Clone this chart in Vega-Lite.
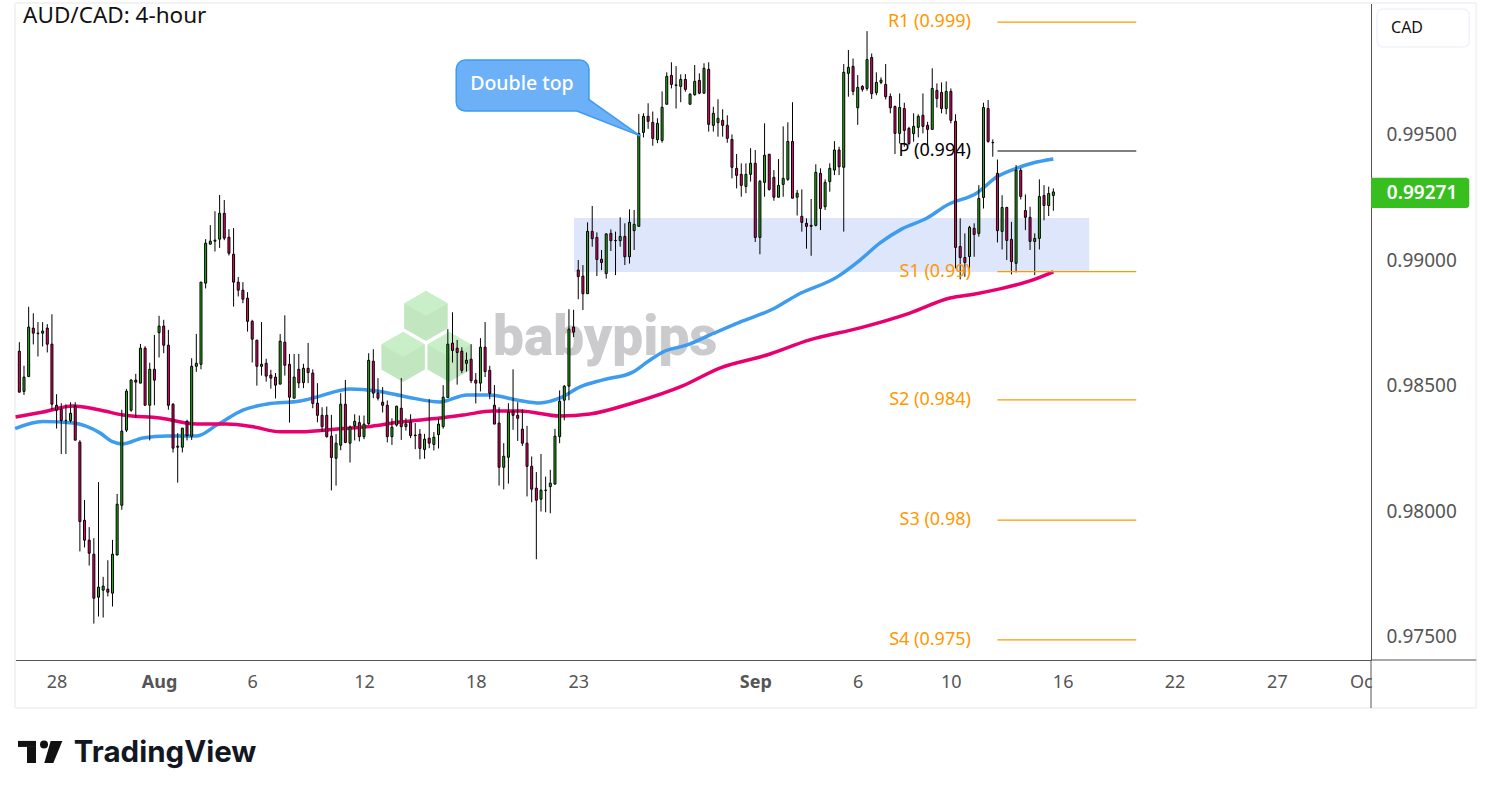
{"$schema":"https://vega.github.io/schema/vega-lite/v6.json","width":1356,"height":657,"autosize":"none","padding":{"left":15,"top":3,"right":120,"bottom":138},"background":"#ffffff","config":{"view":{"stroke":null},"font":"Noto Sans"},
"datasets":{"candles":[
{"i":0,"open":0.98637,"high":0.98673,"low":0.98474,"close":0.98474},{"i":1,"open":0.98477,"high":0.98579,"low":0.98463,"close":0.98534},{"i":2,"open":0.98536,"high":0.98814,"low":0.98536,"close":0.98733},{"i":3,"open":0.98729,"high":0.98788,"low":0.98664,"close":0.98709},{"i":4,"open":0.98707,"high":0.98753,"low":0.98616,"close":0.98709},{"i":5,"open":0.98709,"high":0.98753,"low":0.98656,"close":0.98717},{"i":6,"open":0.98729,"high":0.98745,"low":0.98632,"close":0.98665},{"i":7,"open":0.98665,"high":0.98784,"low":0.98404,"close":0.98426},{"i":8,"open":0.98422,"high":0.98466,"low":0.98329,"close":0.98402},{"i":9,"open":0.98406,"high":0.98430,"low":0.98228,"close":0.98361},
{"i":10,"open":0.98361,"high":0.98426,"low":0.98228,"close":0.98362},{"i":11,"open":0.98361,"high":0.98434,"low":0.98353,"close":0.98390},{"i":12,"open":0.98419,"high":0.98434,"low":0.98283,"close":0.98283},{"i":13,"open":0.98275,"high":0.98283,"low":0.97840,"close":0.97959},{"i":14,"open":0.97964,"high":0.98045,"low":0.97856,"close":0.97885},{"i":15,"open":0.97885,"high":0.97937,"low":0.97784,"close":0.97833},{"i":16,"open":0.97829,"high":0.97893,"low":0.97553,"close":0.97654},{"i":17,"open":0.97658,"high":0.98116,"low":0.97581,"close":0.97698},{"i":18,"open":0.97686,"high":0.97739,"low":0.97577,"close":0.97702},{"i":19,"open":0.97690,"high":0.97805,"low":0.97661,"close":0.97678},
{"i":20,"open":0.97674,"high":0.97886,"low":0.97621,"close":0.97829},{"i":21,"open":0.97826,"high":0.98069,"low":0.97824,"close":0.98028},{"i":22,"open":0.98024,"high":0.98404,"low":0.98006,"close":0.98319},{"i":23,"open":0.98323,"high":0.98487,"low":0.98315,"close":0.98478},{"i":24,"open":0.98402,"high":0.98526,"low":0.98396,"close":0.98522},{"i":25,"open":0.98522,"high":0.98547,"low":0.98373,"close":0.98514},{"i":26,"open":0.98510,"high":0.98666,"low":0.98510,"close":0.98649},{"i":27,"open":0.98649,"high":0.98657,"low":0.98422,"close":0.98422},{"i":28,"open":0.98422,"high":0.98591,"low":0.98282,"close":0.98565},{"i":29,"open":0.98565,"high":0.98702,"low":0.98422,"close":0.98522},
{"i":30,"open":0.98711,"high":0.98778,"low":0.98612,"close":0.98737},{"i":31,"open":0.98737,"high":0.98762,"low":0.98629,"close":0.98661},{"i":32,"open":0.98661,"high":0.98722,"low":0.98404,"close":0.98422},{"i":33,"open":0.98426,"high":0.98430,"low":0.98234,"close":0.98251},{"i":34,"open":0.98255,"high":0.98311,"low":0.98114,"close":0.98259},{"i":35,"open":0.98255,"high":0.98331,"low":0.98234,"close":0.98331},{"i":36,"open":0.98358,"high":0.98364,"low":0.98282,"close":0.98301},{"i":37,"open":0.98299,"high":0.98609,"low":0.98284,"close":0.98577},{"i":38,"open":0.98577,"high":0.98706,"low":0.98555,"close":0.98589},{"i":39,"open":0.98585,"high":0.98912,"low":0.98565,"close":0.98912},
{"i":40,"open":0.98908,"high":0.99083,"low":0.98887,"close":0.99067},{"i":41,"open":0.99063,"high":0.99139,"low":0.99063,"close":0.99075},{"i":42,"open":0.99075,"high":0.99194,"low":0.99034,"close":0.99079},{"i":43,"open":0.99083,"high":0.99259,"low":0.99048,"close":0.99186},{"i":44,"open":0.99186,"high":0.99239,"low":0.99079,"close":0.99087},{"i":45,"open":0.99091,"high":0.99123,"low":0.99018,"close":0.99027},{"i":46,"open":0.99023,"high":0.99127,"low":0.98815,"close":0.98912},{"i":47,"open":0.98912,"high":0.98932,"low":0.98855,"close":0.98880},{"i":48,"open":0.98880,"high":0.98912,"low":0.98828,"close":0.98844},{"i":49,"open":0.98848,"high":0.98872,"low":0.98715,"close":0.98756},
{"i":50,"open":0.98756,"high":0.98762,"low":0.98592,"close":0.98685},{"i":51,"open":0.98681,"high":0.98682,"low":0.98500,"close":0.98577},{"i":52,"open":0.98577,"high":0.98753,"low":0.98540,"close":0.98585},{"i":53,"open":0.98589,"high":0.98607,"low":0.98516,"close":0.98538},{"i":54,"open":0.98542,"high":0.98563,"low":0.98488,"close":0.98530},{"i":55,"open":0.98534,"high":0.98550,"low":0.98449,"close":0.98502},{"i":56,"open":0.98506,"high":0.98705,"low":0.98506,"close":0.98677},{"i":57,"open":0.98673,"high":0.98780,"low":0.98540,"close":0.98581},{"i":58,"open":0.98585,"high":0.98626,"low":0.98353,"close":0.98454},{"i":59,"open":0.98450,"high":0.98626,"low":0.98450,"close":0.98534},
{"i":60,"open":0.98565,"high":0.98626,"low":0.98490,"close":0.98511},{"i":61,"open":0.98512,"high":0.98587,"low":0.98490,"close":0.98569},{"i":62,"open":0.98569,"high":0.98670,"low":0.98510,"close":0.98552},{"i":63,"open":0.98550,"high":0.98565,"low":0.98410,"close":0.98429},{"i":64,"open":0.98430,"high":0.98510,"low":0.98354,"close":0.98382},{"i":65,"open":0.98382,"high":0.98414,"low":0.98317,"close":0.98337},{"i":66,"open":0.98382,"high":0.98417,"low":0.98293,"close":0.98297},{"i":67,"open":0.98299,"high":0.98384,"low":0.98083,"close":0.98214},{"i":68,"open":0.98211,"high":0.98307,"low":0.98102,"close":0.98271},{"i":69,"open":0.98263,"high":0.98470,"low":0.98243,"close":0.98426},
{"i":70,"open":0.98426,"high":0.98523,"low":0.98271,"close":0.98274},{"i":71,"open":0.98271,"high":0.98341,"low":0.98194,"close":0.98335},{"i":72,"open":0.98341,"high":0.98386,"low":0.98282,"close":0.98358},{"i":73,"open":0.98353,"high":0.98381,"low":0.98278,"close":0.98297},{"i":74,"open":0.98297,"high":0.98381,"low":0.98287,"close":0.98347},{"i":75,"open":0.98349,"high":0.98629,"low":0.98344,"close":0.98601},{"i":76,"open":0.98597,"high":0.98645,"low":0.98450,"close":0.98470},{"i":77,"open":0.98470,"high":0.98530,"low":0.98441,"close":0.98450},{"i":78,"open":0.98434,"high":0.98494,"low":0.98393,"close":0.98422},{"i":79,"open":0.98422,"high":0.98441,"low":0.98274,"close":0.98297},
{"i":80,"open":0.98297,"high":0.98370,"low":0.98264,"close":0.98335},{"i":81,"open":0.98343,"high":0.98420,"low":0.98337,"close":0.98418},{"i":82,"open":0.98410,"high":0.98530,"low":0.98284,"close":0.98337},{"i":83,"open":0.98337,"high":0.98370,"low":0.98321,"close":0.98347},{"i":84,"open":0.98355,"high":0.98386,"low":0.98291,"close":0.98301},{"i":85,"open":0.98301,"high":0.98351,"low":0.98247,"close":0.98303},{"i":86,"open":0.98307,"high":0.98327,"low":0.98207,"close":0.98250},{"i":87,"open":0.98246,"high":0.98308,"low":0.98209,"close":0.98287},{"i":88,"open":0.98291,"high":0.98446,"low":0.98251,"close":0.98271},{"i":89,"open":0.98266,"high":0.98315,"low":0.98242,"close":0.98295},
{"i":90,"open":0.98305,"high":0.98370,"low":0.98250,"close":0.98347},{"i":91,"open":0.98337,"high":0.98502,"low":0.98329,"close":0.98454},{"i":92,"open":0.98453,"high":0.98725,"low":0.98453,"close":0.98665},{"i":93,"open":0.98669,"high":0.98792,"low":0.98592,"close":0.98640},{"i":94,"open":0.98649,"high":0.98682,"low":0.98504,"close":0.98632},{"i":95,"open":0.98637,"high":0.98653,"low":0.98550,"close":0.98561},{"i":96,"open":0.98589,"high":0.98632,"low":0.98556,"close":0.98601},{"i":97,"open":0.98605,"high":0.98665,"low":0.98510,"close":0.98520},{"i":98,"open":0.98522,"high":0.98550,"low":0.98429,"close":0.98510},{"i":99,"open":0.98510,"high":0.98689,"low":0.98477,"close":0.98653},
{"i":100,"open":0.98653,"high":0.98753,"low":0.98534,"close":0.98556},{"i":101,"open":0.98561,"high":0.98579,"low":0.98446,"close":0.98469},{"i":102,"open":0.98422,"high":0.98502,"low":0.98347,"close":0.98347},{"i":103,"open":0.98351,"high":0.98414,"low":0.98102,"close":0.98175},{"i":104,"open":0.98175,"high":0.98271,"low":0.98087,"close":0.98219},{"i":105,"open":0.98215,"high":0.98430,"low":0.98110,"close":0.98394},{"i":106,"open":0.98398,"high":0.98565,"low":0.98324,"close":0.98382},{"i":107,"open":0.98382,"high":0.98434,"low":0.98280,"close":0.98370},{"i":108,"open":0.98327,"high":0.98406,"low":0.98260,"close":0.98271},{"i":109,"open":0.98271,"high":0.98340,"low":0.98059,"close":0.98179},
{"i":110,"open":0.98179,"high":0.98218,"low":0.98036,"close":0.98088},{"i":111,"open":0.98092,"high":0.98156,"low":0.97809,"close":0.98044},{"i":112,"open":0.98048,"high":0.98228,"low":0.97999,"close":0.98084},{"i":113,"open":0.98083,"high":0.98138,"low":0.97996,"close":0.98084},{"i":114,"open":0.98098,"high":0.98165,"low":0.97992,"close":0.98112},{"i":115,"open":0.98108,"high":0.98328,"low":0.98108,"close":0.98299},{"i":116,"open":0.98297,"high":0.98481,"low":0.98271,"close":0.98438},{"i":117,"open":0.98442,"high":0.98502,"low":0.98362,"close":0.98498},{"i":118,"open":0.98498,"high":0.98804,"low":0.98442,"close":0.98725},{"i":119,"open":0.98733,"high":0.98802,"low":0.98693,"close":0.98713},
{"i":120,"open":0.98960,"high":0.99000,"low":0.98844,"close":0.98934},{"i":121,"open":0.98936,"high":0.98980,"low":0.98801,"close":0.98866},{"i":122,"open":0.98866,"high":0.99150,"low":0.98866,"close":0.99114},{"i":123,"open":0.99114,"high":0.99215,"low":0.99053,"close":0.99085},{"i":124,"open":0.99090,"high":0.99110,"low":0.98936,"close":0.99002},{"i":125,"open":0.99003,"high":0.99040,"low":0.98960,"close":0.98990},{"i":126,"open":0.98946,"high":0.99106,"low":0.98926,"close":0.99104},{"i":127,"open":0.99106,"high":0.99122,"low":0.99036,"close":0.99077},{"i":128,"open":0.99077,"high":0.99113,"low":0.98940,"close":0.99078},{"i":129,"open":0.99077,"high":0.99170,"low":0.99053,"close":0.99094},
{"i":130,"open":0.99094,"high":0.99146,"low":0.98980,"close":0.99013},{"i":131,"open":0.99013,"high":0.99202,"low":0.98986,"close":0.99150},{"i":132,"open":0.99117,"high":0.99199,"low":0.99040,"close":0.99142},{"i":133,"open":0.99134,"high":0.99581,"low":0.99134,"close":0.99504},{"i":134,"open":0.99508,"high":0.99584,"low":0.99488,"close":0.99572},{"i":135,"open":0.99572,"high":0.99624,"low":0.99522,"close":0.99552},{"i":136,"open":0.99548,"high":0.99591,"low":0.99455,"close":0.99484},{"i":137,"open":0.99479,"high":0.99564,"low":0.99465,"close":0.99544},{"i":138,"open":0.99476,"high":0.99671,"low":0.99467,"close":0.99608},{"i":139,"open":0.99620,"high":0.99747,"low":0.99620,"close":0.99731},
{"i":140,"open":0.99735,"high":0.99787,"low":0.99683,"close":0.99699},{"i":141,"open":0.99695,"high":0.99772,"low":0.99603,"close":0.99697},{"i":142,"open":0.99691,"high":0.99739,"low":0.99628,"close":0.99719},{"i":143,"open":0.99719,"high":0.99740,"low":0.99670,"close":0.99679},{"i":144,"open":0.99620,"high":0.99664,"low":0.99620,"close":0.99660},{"i":145,"open":0.99658,"high":0.99776,"low":0.99654,"close":0.99711},{"i":146,"open":0.99715,"high":0.99743,"low":0.99660,"close":0.99664},{"i":147,"open":0.99664,"high":0.99783,"low":0.99664,"close":0.99763},{"i":148,"open":0.99759,"high":0.99787,"low":0.99511,"close":0.99540},{"i":149,"open":0.99536,"high":0.99610,"low":0.99511,"close":0.99584},
{"i":150,"open":0.99547,"high":0.99640,"low":0.99491,"close":0.99564},{"i":151,"open":0.99556,"high":0.99600,"low":0.99491,"close":0.99536},{"i":152,"open":0.99536,"high":0.99576,"low":0.99467,"close":0.99484},{"i":153,"open":0.99480,"high":0.99500,"low":0.99325,"close":0.99369},{"i":154,"open":0.99365,"high":0.99422,"low":0.99285,"close":0.99337},{"i":155,"open":0.99341,"high":0.99385,"low":0.99252,"close":0.99297},{"i":156,"open":0.99293,"high":0.99385,"low":0.99266,"close":0.99341},{"i":157,"open":0.99341,"high":0.99445,"low":0.99312,"close":0.99385},{"i":158,"open":0.99385,"high":0.99438,"low":0.99072,"close":0.99090},{"i":159,"open":0.99090,"high":0.99319,"low":0.99023,"close":0.99313},
{"i":160,"open":0.99309,"high":0.99544,"low":0.99252,"close":0.99417},{"i":161,"open":0.99421,"high":0.99422,"low":0.99276,"close":0.99281},{"i":162,"open":0.99329,"high":0.99358,"low":0.99236,"close":0.99250},{"i":163,"open":0.99250,"high":0.99402,"low":0.99250,"close":0.99297},{"i":164,"open":0.99301,"high":0.99532,"low":0.99252,"close":0.99325},{"i":165,"open":0.99321,"high":0.99548,"low":0.99315,"close":0.99472},{"i":166,"open":0.99472,"high":0.99628,"low":0.99246,"close":0.99246},{"i":167,"open":0.99250,"high":0.99279,"low":0.99177,"close":0.99266},{"i":168,"open":0.99174,"high":0.99281,"low":0.99113,"close":0.99150},{"i":169,"open":0.99146,"high":0.99166,"low":0.99045,"close":0.99134},
{"i":170,"open":0.99134,"high":0.99243,"low":0.99017,"close":0.99138},{"i":171,"open":0.99138,"high":0.99381,"low":0.99134,"close":0.99349},{"i":172,"open":0.99345,"high":0.99365,"low":0.99119,"close":0.99205},{"i":173,"open":0.99212,"high":0.99321,"low":0.99199,"close":0.99309},{"i":174,"open":0.99312,"high":0.99385,"low":0.99272,"close":0.99365},{"i":175,"open":0.99358,"high":0.99473,"low":0.99338,"close":0.99438},{"i":176,"open":0.99438,"high":0.99451,"low":0.99338,"close":0.99371},{"i":177,"open":0.99369,"high":0.99780,"low":0.99113,"close":0.99747},{"i":178,"open":0.99743,"high":0.99836,"low":0.99650,"close":0.99767},{"i":179,"open":0.99771,"high":0.99802,"low":0.99656,"close":0.99671},
{"i":180,"open":0.99606,"high":0.99736,"low":0.99538,"close":0.99687},{"i":181,"open":0.99691,"high":0.99696,"low":0.99670,"close":0.99679},{"i":182,"open":0.99683,"high":0.99911,"low":0.99674,"close":0.99798},{"i":183,"open":0.99806,"high":0.99822,"low":0.99641,"close":0.99662},{"i":184,"open":0.99666,"high":0.99747,"low":0.99656,"close":0.99707},{"i":185,"open":0.99707,"high":0.99727,"low":0.99700,"close":0.99716},{"i":186,"open":0.99699,"high":0.99780,"low":0.99639,"close":0.99650},{"i":187,"open":0.99651,"high":0.99663,"low":0.99584,"close":0.99606},{"i":188,"open":0.99611,"high":0.99615,"low":0.99422,"close":0.99504},{"i":189,"open":0.99504,"high":0.99663,"low":0.99464,"close":0.99607},
{"i":190,"open":0.99603,"high":0.99626,"low":0.99451,"close":0.99516},{"i":191,"open":0.99524,"high":0.99530,"low":0.99457,"close":0.99464},{"i":192,"open":0.99503,"high":0.99584,"low":0.99471,"close":0.99532},{"i":193,"open":0.99528,"high":0.99580,"low":0.99488,"close":0.99572},{"i":194,"open":0.99576,"high":0.99663,"low":0.99504,"close":0.99532},{"i":195,"open":0.99536,"high":0.99550,"low":0.99454,"close":0.99520},{"i":196,"open":0.99520,"high":0.99763,"low":0.99520,"close":0.99683},{"i":197,"open":0.99675,"high":0.99703,"low":0.99607,"close":0.99643},{"i":198,"open":0.99667,"high":0.99707,"low":0.99584,"close":0.99603},{"i":199,"open":0.99603,"high":0.99711,"low":0.99580,"close":0.99671},
{"i":200,"open":0.99671,"high":0.99683,"low":0.99544,"close":0.99556},{"i":201,"open":0.99552,"high":0.99580,"low":0.98967,"close":0.99050},{"i":202,"open":0.99054,"high":0.99166,"low":0.98923,"close":0.99010},{"i":203,"open":0.99010,"high":0.99106,"low":0.98933,"close":0.98990},{"i":204,"open":0.99014,"high":0.99136,"low":0.98947,"close":0.99130},{"i":205,"open":0.99126,"high":0.99146,"low":0.99013,"close":0.99102},{"i":206,"open":0.99106,"high":0.99298,"low":0.99093,"close":0.99245},{"i":207,"open":0.99249,"high":0.99626,"low":0.99205,"close":0.99607},{"i":208,"open":0.99603,"high":0.99637,"low":0.99467,"close":0.99472},{"i":209,"open":0.99468,"high":0.99480,"low":0.99411,"close":0.99467},
{"i":210,"open":0.99345,"high":0.99400,"low":0.99070,"close":0.99117},{"i":211,"open":0.99114,"high":0.99258,"low":0.99042,"close":0.99209},{"i":212,"open":0.99209,"high":0.99212,"low":0.99000,"close":0.99078},{"i":213,"open":0.99082,"high":0.99152,"low":0.98943,"close":0.98994},{"i":214,"open":0.98987,"high":0.99378,"low":0.98951,"close":0.99357},{"i":215,"open":0.99357,"high":0.99365,"low":0.99241,"close":0.99253},{"i":216,"open":0.99197,"high":0.99261,"low":0.99119,"close":0.99170},{"i":217,"open":0.99170,"high":0.99212,"low":0.99040,"close":0.99074},{"i":218,"open":0.99074,"high":0.99106,"low":0.98940,"close":0.99086},{"i":219,"open":0.99086,"high":0.99321,"low":0.99042,"close":0.99253},
{"i":220,"open":0.99257,"high":0.99298,"low":0.99158,"close":0.99217},{"i":221,"open":0.99217,"high":0.99292,"low":0.99175,"close":0.99265},{"i":222,"open":0.99257,"high":0.99285,"low":0.99196,"close":0.99271}
],
"blue":[{"i":-0.9,"v":0.98329},{"i":5,"v":0.98357},{"i":11.5,"v":0.98351},{"i":17.3,"v":0.98312},{"i":20,"v":0.98277},{"i":22,"v":0.98268},{"i":26.5,"v":0.98292},{"i":31.7,"v":0.983},{"i":38.1,"v":0.983},{"i":42.4,"v":0.98343},{"i":48,"v":0.98403},{"i":53.2,"v":0.98427},{"i":60.3,"v":0.98439},{"i":63.9,"v":0.98455},{"i":71,"v":0.98487},{"i":76.8,"v":0.98479},{"i":83.2,"v":0.98455},{"i":90.3,"v":0.98435},{"i":96.1,"v":0.98463},{"i":101,"v":0.98463},{"i":106.8,"v":0.98443},{"i":111.8,"v":0.98431},{"i":116.1,"v":0.98451},{"i":120.4,"v":0.98495},{"i":125.3,"v":0.98523},{"i":131.7,"v":0.98554},{"i":134.8,"v":0.98594},{"i":138.2,"v":0.98634},{"i":143.4,"v":0.98662},{"i":148.3,"v":0.98702},{"i":154.7,"v":0.98753},{"i":161.8,"v":0.98805},{"i":167,"v":0.98861},{"i":175.6,"v":0.98933},{"i":180.5,"v":0.99},{"i":184.8,"v":0.99068},{"i":189.5,"v":0.99124},{"i":194.9,"v":0.99167},{"i":199.2,"v":0.99219},{"i":205.6,"v":0.99267},{"i":209.9,"v":0.99331},{"i":214.2,"v":0.99366},{"i":217.6,"v":0.99386},{"i":222,"v":0.99402}],
"pink":[{"i":-0.8,"v":0.98375},{"i":5.1,"v":0.98395},{"i":11.5,"v":0.98419},{"i":17.3,"v":0.98403},{"i":22.3,"v":0.98383},{"i":30.2,"v":0.98371},{"i":38.1,"v":0.98347},{"i":44.6,"v":0.98347},{"i":50.2,"v":0.98336},{"i":56,"v":0.98316},{"i":60.3,"v":0.98316},{"i":68.9,"v":0.98328},{"i":74.6,"v":0.98336},{"i":81.7,"v":0.98355},{"i":90.3,"v":0.98371},{"i":95.3,"v":0.98383},{"i":101.7,"v":0.98399},{"i":107.5,"v":0.98399},{"i":116.1,"v":0.98379},{"i":122.5,"v":0.98387},{"i":131.7,"v":0.98431},{"i":142.4,"v":0.98499},{"i":150.4,"v":0.9857},{"i":160.5,"v":0.98622},{"i":169.7,"v":0.98682},{"i":180.5,"v":0.9873},{"i":191.2,"v":0.98789},{"i":199.8,"v":0.98849},{"i":205.2,"v":0.98865},{"i":210.5,"v":0.98885},{"i":217,"v":0.98917},{"i":222,"v":0.98953}],
"pivots":[{"name":"R1 (0.999)","v":0.99947,"a":210,"b":239.8,"lx":204.3,"kind":"o"},{"name":"P (0.994)","v":0.99434,"a":210,"b":239.8,"lx":204.3,"kind":"p"},{"name":"S1 (0.99)","v":0.98954,"a":210,"b":239.8,"lx":204.3,"kind":"o"},{"name":"S2 (0.984)","v":0.98443,"a":210,"b":239.8,"lx":204.3,"kind":"o"},{"name":"S3 (0.98)","v":0.97965,"a":210,"b":239.8,"lx":204.3,"kind":"o"},{"name":"S4 (0.975)","v":0.97488,"a":210,"b":239.8,"lx":204.3,"kind":"o"}]},
"encoding":{"x":{"field":"i","type":"quantitative","scale":{"domain":[-0.93,290.2],"nice":false,"zero":false,"padding":0},"axis":{"title":null,"grid":false,"ticks":false,"domainColor":"#555555","domainWidth":1,"labelColor":"#555555","labelFontSize":18,"labelPadding":13,"labelFont":"Noto Sans","labelOverlap":false,"labelBound":false,"labelFlush":false,"values":[8,30,50,74,98,120,158,180,200,224,248,270,288],"labelExpr":"{'8':'28','30':'Aug','50':'6','74':'12','98':'18','120':'23','158':'Sep','180':'6','200':'10','224':'16','248':'22','270':'27','288':'Oc'}[''+datum.value]","labelFontWeight":{"condition":{"test":"datum.value==30||datum.value==158","value":"bold"},"value":"normal"}}},
"y":{"field":"v","type":"quantitative","scale":{"domain":[0.97408,1.00023],"nice":false,"zero":false},"axis":{"title":null,"orient":"right","grid":false,"ticks":false,"domainColor":"#555555","domainWidth":1,"labelColor":"#555555","labelFontSize":19,"labelPadding":15,"labelFont":"Noto Sans","values":[0.975,0.98,0.985,0.99,0.995],"format":".5f"}}},
"layer":[
{"data":{"values":[{"a":-0.93,"b":312.8,"v":1.00023,"w":1.00023},{"a":-0.93,"b":312.8,"v":0.97217,"w":0.97217},{"a":-0.93,"b":-0.93,"v":1.00023,"w":0.97217},{"a":312.8,"b":312.8,"v":1.00023,"w":0.97217}]},"mark":{"type":"rule","color":"#f3f3f3","strokeWidth":2},"encoding":{"x":{"field":"a","type":"quantitative"},"x2":{"field":"b"},"y":{"field":"v","type":"quantitative"},"y2":{"field":"w"}}},
{"data":{"values":[{"a":290.2,"b":312.8,"v":0.97408,"w":0.97408},{"a":290.2,"b":290.2,"v":0.97408,"w":0.97217}]},"mark":{"type":"rule","color":"#555555","strokeWidth":1},"encoding":{"x":{"field":"a","type":"quantitative"},"x2":{"field":"b"},"y":{"field":"v","type":"quantitative"},"y2":{"field":"w"}}},
{"data":{"values":[{"i":87.3,"v":0.98777},{"i":82.4,"v":0.98614},{"i":92.3,"v":0.98614}]},"mark":{"type":"point","filled":true,"size":2500,"opacity":1,"color":"#c1e6c0","shape":"M0,-1L0.87,-0.5L0.87,0.5L0,1L-0.87,0.5L-0.87,-0.5Z"},"encoding":{"x":{"field":"i","type":"quantitative"},"y":{"field":"v","type":"quantitative"}}},
{"data":{"values":[{"i":87.3,"v":0.98777},{"i":82.4,"v":0.98614},{"i":92.3,"v":0.98614}]},"mark":{"type":"point","filled":true,"size":2500,"opacity":1,"color":"#c8efc7","shape":"M0,-1L0.87,-0.5L0,0L-0.87,-0.5Z"},"encoding":{"x":{"field":"i","type":"quantitative"},"y":{"field":"v","type":"quantitative"}}},
{"data":{"values":[{"i":125.8,"v":0.98622,"t":"babypips"}]},"mark":{"type":"text","font":"Roboto","fontWeight":900,"fontSize":55,"color":"#cbcbce","align":"center","baseline":"alphabetic"},"encoding":{"x":{"field":"i","type":"quantitative"},"y":{"field":"v","type":"quantitative"},"text":{"field":"t"}}},
{"data":{"values":[{"a":119.1,"b":229.7,"v":0.99167,"w":0.98952}]},"mark":{"type":"rect","color":"#dee6fb"},"encoding":{"x":{"field":"a","type":"quantitative"},"x2":{"field":"b"},"y":{"field":"v","type":"quantitative"},"y2":{"field":"w"}}},
{"data":{"name":"blue"},"mark":{"type":"line","color":"#3d9bf0","strokeWidth":3.5,"interpolate":"monotone"},"encoding":{"x":{"field":"i","type":"quantitative"},"y":{"field":"v","type":"quantitative"}}},
{"data":{"name":"pink"},"mark":{"type":"line","color":"#e8006f","strokeWidth":3.5,"interpolate":"monotone"},"encoding":{"x":{"field":"i","type":"quantitative"},"y":{"field":"v","type":"quantitative"}}},
{"data":{"name":"candles"},"mark":{"type":"rule","color":"#000000","strokeWidth":1},"encoding":{"x":{"field":"i","type":"quantitative"},"y":{"field":"low","type":"quantitative"},"y2":{"field":"high"}}},
{"data":{"name":"candles"},"mark":{"type":"bar","size":2,"stroke":"#000000","strokeWidth":1},"encoding":{"x":{"field":"i","type":"quantitative"},"y":{"field":"open","type":"quantitative"},"y2":{"field":"close"},"fill":{"condition":{"test":"datum.close>=datum.open","value":"#22b012"},"value":"#f0006f"}}},
{"data":{"name":"pivots"},"mark":{"type":"rule","strokeWidth":1.2},"encoding":{"x":{"field":"a","type":"quantitative"},"x2":{"field":"b"},"y":{"field":"v","type":"quantitative"},"color":{"condition":{"test":"datum.kind=='p'","value":"#000000"},"value":"#ff9800"}}},
{"data":{"name":"pivots"},"mark":{"type":"text","align":"right","baseline":"middle","fontSize":18,"font":"Noto Sans"},"encoding":{"x":{"field":"lx","type":"quantitative"},"y":{"field":"v","type":"quantitative"},"text":{"field":"name","type":"nominal"},"color":{"condition":{"test":"datum.kind=='p'","value":"#000000"},"value":"#ff9800"}}},
{"data":{"values":[{"a":93.8,"b":122.3,"v":0.99796,"w":0.99593}]},"mark":{"type":"rect","color":"#6cb0f8","stroke":"#3d9bf0","strokeWidth":1.5,"cornerRadius":9},"encoding":{"x":{"field":"a","type":"quantitative"},"x2":{"field":"b"},"y":{"field":"v","type":"quantitative"},"y2":{"field":"w"}}},
{"data":{"values":[{"i":119.7,"v":0.99657,"w":0.99595},{"i":122.1,"v":0.99641,"w":0.99574},{"i":133.3,"v":0.99494,"w":0.99494}]},"mark":{"type":"area","color":"#6cb0f8"},"encoding":{"x":{"field":"i","type":"quantitative"},"y":{"field":"v","type":"quantitative"},"y2":{"field":"w"}}},
{"data":{"values":[{"k":1,"i":122.1,"v":0.99641},{"k":2,"i":133.3,"v":0.99494},{"k":3,"i":119.7,"v":0.99593}]},"mark":{"type":"line","color":"#3d9bf0","strokeWidth":1.5},"encoding":{"x":{"field":"i","type":"quantitative"},"y":{"field":"v","type":"quantitative"},"order":{"field":"k"}}},
{"data":{"values":[{"i":107.9,"v":0.99701,"t":"Double top"}]},"mark":{"type":"text","color":"#ffffff","fontSize":19.5,"fontWeight":500,"font":"Noto Sans","align":"center","baseline":"middle"},"encoding":{"x":{"field":"i","type":"quantitative"},"y":{"field":"v","type":"quantitative"},"text":{"field":"t"}}},
{"data":{"values":[{"i":0.8,"v":0.99971,"t":"AUD/CAD: 4-hour"}]},"mark":{"type":"text","color":"#111111","fontSize":22.5,"font":"Noto Sans","align":"left","baseline":"middle"},"encoding":{"x":{"field":"i","type":"quantitative"},"y":{"field":"v","type":"quantitative"},"text":{"field":"t"}}},
{"data":{"values":[{"a":291.5,"b":311.3,"v":0.99999,"w":0.99848}]},"mark":{"type":"rect","fill":"#ffffff","stroke":"#f0f3fa","strokeWidth":1.5,"cornerRadius":6},"encoding":{"x":{"field":"a","type":"quantitative"},"x2":{"field":"b"},"y":{"field":"v","type":"quantitative"},"y2":{"field":"w"}}},
{"data":{"values":[{"i":294.5,"v":0.99924,"t":"CAD"}]},"mark":{"type":"text","color":"#111111","fontSize":16,"font":"Noto Sans","align":"left","baseline":"middle"},"encoding":{"x":{"field":"i","type":"quantitative"},"y":{"field":"v","type":"quantitative"},"text":{"field":"t"}}},
{"data":{"values":[{"a":290.2,"b":311.3,"v":0.99327,"w":0.99207}]},"mark":{"type":"rect","color":"#37bf1f","cornerRadiusTopRight":3,"cornerRadiusBottomRight":3},"encoding":{"x":{"field":"a","type":"quantitative"},"x2":{"field":"b"},"y":{"field":"v","type":"quantitative"},"y2":{"field":"w"}}},
{"data":{"values":[{"i":293.6,"v":0.99266,"t":"0.99271"}]},"mark":{"type":"text","color":"#ffffff","fontSize":19,"fontWeight":600,"font":"Noto Sans","align":"left","baseline":"middle"},"encoding":{"x":{"field":"i","type":"quantitative"},"y":{"field":"v","type":"quantitative"},"text":{"field":"t"}}},
{"data":{"values":[{"a":-0.29,"b":3.58,"v":0.97086,"w":0.97062},{"a":1.65,"b":3.58,"v":0.97062,"w":0.96998}]},"mark":{"type":"rect","color":"#111111"},"encoding":{"x":{"field":"a","type":"quantitative"},"x2":{"field":"b"},"y":{"field":"v","type":"quantitative"},"y2":{"field":"w"}}},
{"data":{"values":[{"i":5.3,"v":0.97072}]},"mark":{"type":"point","filled":true,"shape":"circle","size":64,"opacity":1,"color":"#111111"},"encoding":{"x":{"field":"i","type":"quantitative"},"y":{"field":"v","type":"quantitative"}}},
{"data":{"values":[{"i":7.3,"v":0.97042}]},"mark":{"type":"point","filled":true,"size":484,"opacity":1,"color":"#111111","shape":"M-0.24,-1L0.82,-1L0,1L-0.82,1Z"},"encoding":{"x":{"field":"i","type":"quantitative"},"y":{"field":"v","type":"quantitative"}}},
{"data":{"values":[{"i":11.7,"v":0.97038,"t":"TradingView"}]},"mark":{"type":"text","color":"#131722","fontSize":29.5,"fontWeight":700,"font":"Inter","align":"left","baseline":"middle"},"encoding":{"x":{"field":"i","type":"quantitative"},"y":{"field":"v","type":"quantitative"},"text":{"field":"t"}}}
]}
